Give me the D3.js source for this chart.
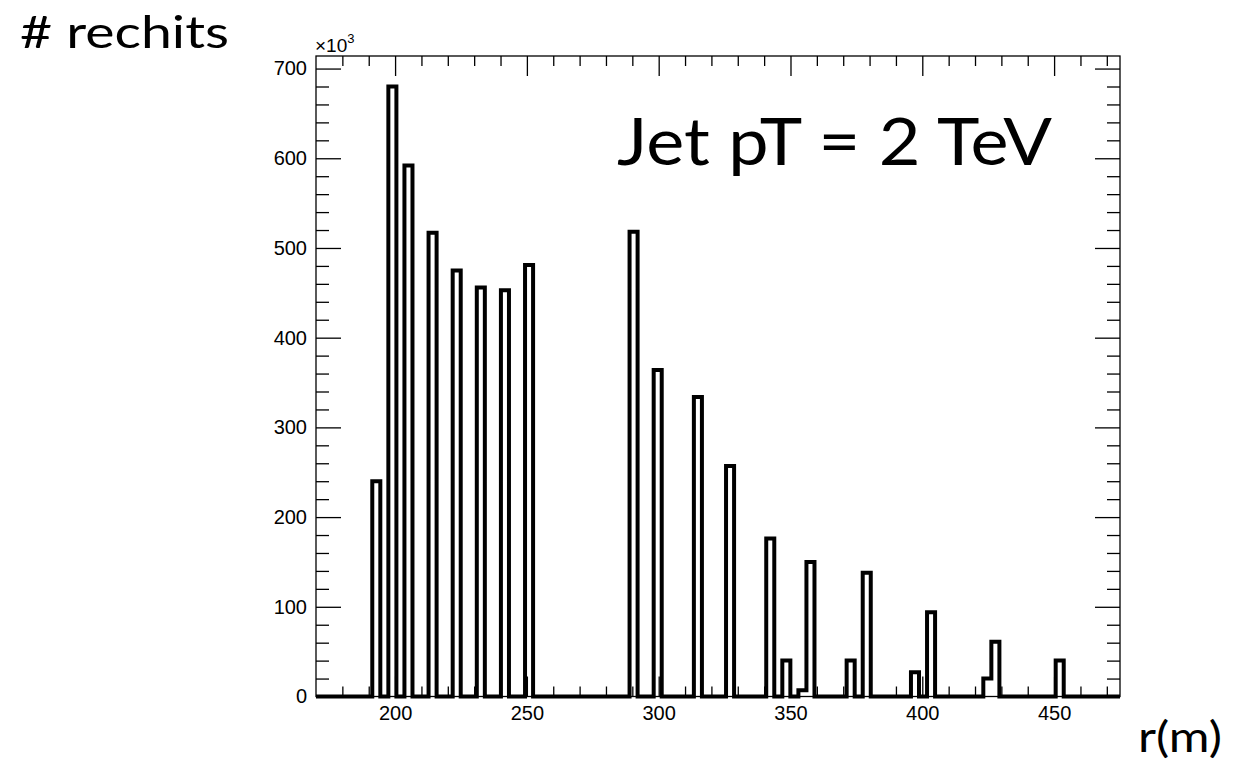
<!DOCTYPE html>
<html>
<head>
<script src="https://d3js.org/d3.v7.min.js"></script>
<style>
  body { margin: 0; background: #fff; }
  svg { display: block; }
  .big { font-family: Lato, "Open Sans", sans-serif; fill: #000; }
</style>
</head>
<body>
<script>
// histogram of rechit radius, 100 bins from 170 to 475, counts in units of 10^3
var xMin = 170, xMax = 475, nBins = 100;
var yMax = 714;

// only the non-empty bins, given by their centre
var binCenters = [192.9, 199.0, 205.1, 214.2, 223.4, 232.5, 241.7, 250.8,
                  290.5, 299.6, 314.9, 327.1, 342.3, 348.4, 354.5, 357.6,
                  372.8, 378.9, 397.2, 403.3, 424.7, 427.7, 452.1];
var binCounts  = [240, 680, 592, 517, 475, 456, 453, 481,
                  518, 364, 334, 257, 176, 40, 7, 150,
                  40, 138, 27, 94, 20, 61, 40];

var xMajorTicks = [200, 250, 300, 350, 400, 450];
var xMinorTicks = d3.range(180, 475, 10).filter(function(d) { return d % 50 != 0; });
var yMajorTicks = [0, 100, 200, 300, 400, 500, 600, 700];
var yMinorTicks = d3.range(20, 714, 20).filter(function(d) { return d % 100 != 0; });

var W = 1244, H = 766;
var frame = {left: 316, right: 1120, top: 56, bottom: 696.5};
var labelFont = "'Liberation Sans', Arial, Helvetica, sans-serif";

var svg = d3.select("body").append("svg")
    .attr("width", W)
    .attr("height", H);

var x = d3.scaleLinear().domain([xMin, xMax]).range([frame.left, frame.right]);
var y = d3.scaleLinear().domain([0, yMax]).range([frame.bottom, frame.top]);

// fill every bin, empty ones stay at zero
var binW = (xMax - xMin) / nBins;
var bins = d3.range(nBins).map(function(i) { return {x0: xMin + i * binW, n: 0}; });
binCenters.forEach(function(c, j) {
  bins[Math.floor((c - xMin) / binW)].n = binCounts[j];
});
var pts = bins.map(function(b) { return [b.x0, b.n]; });
pts.push([xMax, 0]);

svg.append("clipPath").attr("id", "clip")
  .append("rect")
    .attr("x", frame.left).attr("y", frame.top)
    .attr("width", frame.right - frame.left)
    .attr("height", frame.bottom - frame.top + 3);

var line = d3.line()
    .x(function(d) { return x(d[0]); })
    .y(function(d) { return y(d[1]); })
    .curve(d3.curveStepAfter);

svg.append("path")
    .datum(pts)
    .attr("clip-path", "url(#clip)")
    .attr("d", line)
    .attr("fill", "none")
    .attr("stroke", "#000")
    .attr("stroke-width", 4)
    .attr("stroke-linejoin", "miter");

// axes, ticks drawn inward like ROOT
function cleanAxis(g) {
  g.select(".domain").remove();
  g.selectAll(".tick line").attr("stroke", "#000").attr("stroke-width", 1.3);
  g.selectAll(".tick text")
      .attr("font-family", labelFont)
      .attr("font-size", 20)
      .attr("fill", "#000");
}

svg.append("g")
    .attr("transform", "translate(0," + frame.bottom + ")")
    .call(d3.axisBottom(x).tickValues(xMajorTicks).tickSize(-20).tickPadding(9).tickFormat(d3.format("d")))
    .call(cleanAxis);
svg.append("g")
    .attr("transform", "translate(0," + frame.bottom + ")")
    .call(d3.axisBottom(x).tickValues(xMinorTicks).tickSize(-10).tickFormat(""))
    .call(cleanAxis);
svg.append("g")
    .attr("transform", "translate(0," + frame.top + ")")
    .call(d3.axisTop(x).tickValues(xMajorTicks).tickSize(-20).tickFormat(""))
    .call(cleanAxis);
svg.append("g")
    .attr("transform", "translate(0," + frame.top + ")")
    .call(d3.axisTop(x).tickValues(xMinorTicks).tickSize(-10).tickFormat(""))
    .call(cleanAxis);

svg.append("g")
    .attr("transform", "translate(" + frame.left + ",0)")
    .call(d3.axisLeft(y).tickValues(yMajorTicks).tickSize(-25).tickPadding(9).tickFormat(d3.format("d")))
    .call(cleanAxis);
svg.append("g")
    .attr("transform", "translate(" + frame.left + ",0)")
    .call(d3.axisLeft(y).tickValues(yMinorTicks).tickSize(-13).tickFormat(""))
    .call(cleanAxis);
svg.append("g")
    .attr("transform", "translate(" + frame.right + ",0)")
    .call(d3.axisRight(y).tickValues(yMajorTicks).tickSize(-25).tickFormat(""))
    .call(cleanAxis);
svg.append("g")
    .attr("transform", "translate(" + frame.right + ",0)")
    .call(d3.axisRight(y).tickValues(yMinorTicks).tickSize(-13).tickFormat(""))
    .call(cleanAxis);

// frame
svg.append("rect")
    .attr("x", frame.left).attr("y", frame.top)
    .attr("width", frame.right - frame.left)
    .attr("height", frame.bottom - frame.top)
    .attr("fill", "none")
    .attr("stroke", "#000")
    .attr("stroke-width", 1.3);

// x10^3 multiplier
var mult = svg.append("text")
    .attr("x", frame.left - 1)
    .attr("y", 52)
    .attr("font-family", labelFont)
    .attr("font-size", 19);
mult.append("tspan").text("\u00d710");
mult.append("tspan").attr("dy", -9).attr("font-size", 13).text("3");

// labels
svg.append("text").attr("class", "big")
    .attr("x", 20).attr("y", 48)
    .attr("textLength", 209).attr("lengthAdjust", "spacingAndGlyphs")
    .attr("font-size", 44)
    .text("# rechits");

svg.append("text").attr("class", "big")
    .attr("x", 617).attr("y", 165)
    .attr("textLength", 435).attr("lengthAdjust", "spacingAndGlyphs")
    .attr("font-size", 66)
    .text("Jet pT = 2 TeV");

svg.append("text").attr("class", "big")
    .attr("x", 1138).attr("y", 752)
    .attr("textLength", 84).attr("lengthAdjust", "spacingAndGlyphs")
    .attr("font-size", 42)
    .text("r(m)");
</script>
</body>
</html>
